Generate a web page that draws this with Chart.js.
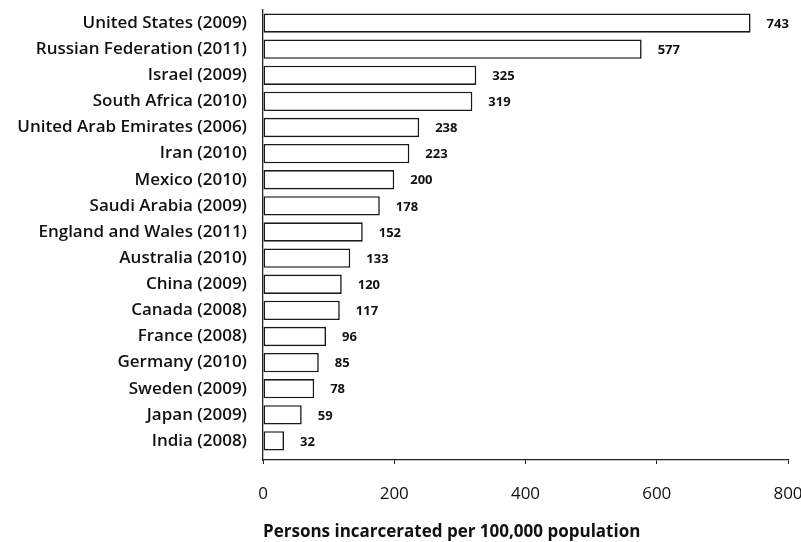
<!DOCTYPE html>
<html>
<head>
<meta charset="utf-8">
<script src="https://cdn.jsdelivr.net/npm/chart.js@4.4.0/dist/chart.umd.min.js"></script>
<style>
  html, body { margin: 0; padding: 0; background: #fff; }
  #wrap { width: 801px; height: 542px; }
</style>
</head>
<body>
<div id="wrap"><canvas id="myChart"></canvas></div>
<script>
const countries = [
    'United States (2009)', 'Russian Federation (2011)', 'Israel (2009)', 'South Africa (2010)',
    'United Arab Emirates (2006)', 'Iran (2010)', 'Mexico (2010)', 'Saudi Arabia (2009)',
    'England and Wales (2011)', 'Australia (2010)', 'China (2009)', 'Canada (2008)',
    'France (2008)', 'Germany (2010)', 'Sweden (2009)', 'Japan (2009)', 'India (2008)'
];
const rates = [743, 577, 325, 319, 238, 223, 200, 178, 152, 133, 120, 117, 96, 85, 78, 59, 32];
const x_ticks = [0, 200, 400, 600, 800];

const fontFamily = '"Open Sans", "DejaVu Sans", sans-serif';

// draws the number just right of each bar
const valueLabels = {
    id: 'valueLabels',
    afterDatasetsDraw(chart) {
        const ctx = chart.ctx;
        const meta = chart.getDatasetMeta(0);
        ctx.save();
        ctx.font = `bold 13px ${fontFamily}`;
        ctx.fillStyle = '#111';
        ctx.textBaseline = 'middle';
        ctx.textAlign = 'left';
        meta.data.forEach((bar, i) => {
            ctx.fillText(rates[i], bar.x + 16, bar.y + 1);
        });
        ctx.restore();
    }
};

const data = {
    labels: countries,
    datasets: [
        {
            label: 'Rate',
            backgroundColor: '#ffffff',
            borderColor: '#1a1a1a',
            borderWidth: 1.6,
            borderSkipped: false,
            categoryPercentage: 1,
            barPercentage: 0.74,
            data: rates
        }
    ]
};

const config = {
    type: 'bar',
    data: data,
    options: {
        indexAxis: 'y',
        responsive: true,
        maintainAspectRatio: false,
        animation: false,
        layout: { padding: { top: 10, right: 13, left: 0, bottom: 0 } },
        plugins: {
            legend: { display: false },
            tooltip: { enabled: false }
        },
        scales: {
            x: {
                min: 0,
                max: 800,
                afterBuildTicks: (scale) => {
                    scale.ticks = x_ticks.map(v => ({ value: v }));
                },
                afterFit: (scale) => {
                    scale.height = 82;
                    scale.paddingLeft = 0;
                    scale.paddingRight = 0;
                },
                grid: { drawOnChartArea: false, drawTicks: true, tickLength: 4, color: '#222' },
                border: { display: true, color: '#222', width: 1.3 },
                ticks: {
                    color: '#111',
                    padding: 20,
                    font: { family: fontFamily, size: 17 }
                },
                title: {
                    display: true,
                    align: 'start',
                    text: 'Persons incarcerated per 100,000 population',
                    color: '#111',
                    padding: { top: 10, bottom: 0 },
                    font: { family: fontFamily, size: 17, weight: 'bold' }
                }
            },
            y: {
                afterFit: (scale) => {
                    scale.width = 263;
                    scale.paddingTop = 0;
                    scale.paddingBottom = 0;
                },
                // leave a little gap between India and the x axis line
                afterBuildTicks: (scale) => { scale._valueRange = 17.23; },
                grid: { display: false },
                border: { display: true, color: '#222', width: 1.3 },
                ticks: {
                    color: '#111',
                    padding: 8,
                    font: { family: fontFamily, size: 17, weight: '600' }
                }
            }
        }
    },
    plugins: [valueLabels]
};

const ctx = document.getElementById('myChart').getContext('2d');
const myChart = new Chart(ctx, config);
</script>
</body>
</html>
